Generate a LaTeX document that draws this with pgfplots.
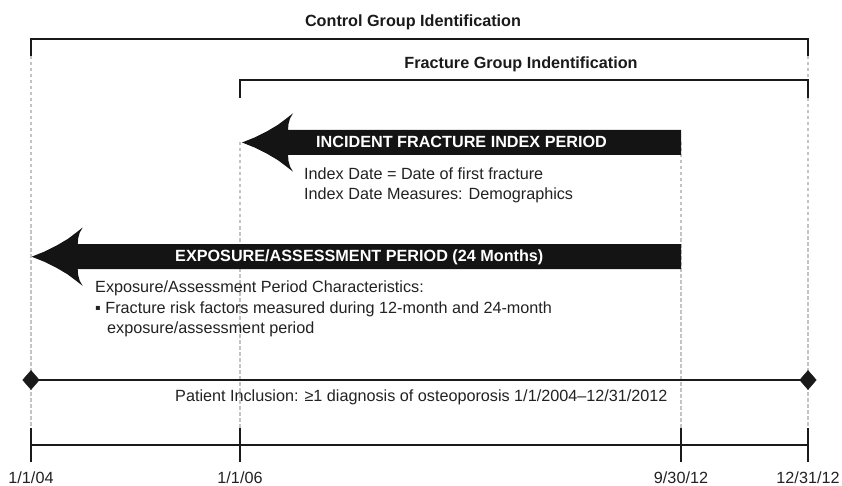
\documentclass[border=0pt]{standalone}
\usepackage{pgfplots}
\pgfplotsset{compat=1.18}
\usepackage{fontspec}
\setmainfont{Liberation Sans}
\definecolor{ink}{HTML}{1A1A1A}
\definecolor{txt}{HTML}{222222}
\definecolor{arrowc}{HTML}{141414}
\definecolor{dashc}{HTML}{C4C4C4}
\newcommand{\fs}{\fontsize{16.2}{20}\selectfont}
\begin{document}
\begin{tikzpicture}
\begin{axis}[
  scale only axis, width=842pt, height=486pt,
  xmin=0, xmax=842, ymin=0, ymax=486, y dir=reverse,
  hide axis, clip=false,
]
\path (axis cs:0,0) rectangle (axis cs:842,486);
% gray dashed guides
\addplot[dashc, line width=2.3pt, dash pattern=on 3.5pt off 2.5pt] coordinates {(31,56) (31,428)};
\addplot[dashc, line width=2.3pt, dash pattern=on 3.5pt off 2.5pt] coordinates {(240,142) (240,428)};
\addplot[dashc, line width=2.3pt, dash pattern=on 3.5pt off 2.5pt] coordinates {(681,142) (681,428)};
\addplot[dashc, line width=2.3pt, dash pattern=on 3.5pt off 2.5pt] coordinates {(808,56) (808,428)};
% brackets
\addplot[ink, line width=2.4pt, line join=miter] coordinates {(31,56) (31,39) (808,39) (808,56)};
\addplot[ink, line width=2.4pt, line join=miter] coordinates {(240,98) (240,80) (808,80) (808,98)};
% incident arrow
\addplot[fill=arrowc, draw=none] coordinates {
 (242,142.5) (255,137.3) (267,131.3) (278,124.8) (287,118) (293,113.3) (290,118.5) (288.5,124) (288,130)
 (681,130) (681,155) (288,155) (288.5,161) (290,166.5) (293,171.7) (287,167) (278,160.2) (267,153.7) (255,147.7)
} -- cycle;
% exposure arrow
\addplot[fill=arrowc, draw=none] coordinates {
 (31.7,256.7) (44.7,251.5) (56.7,245.5) (67.7,239) (76.7,232.2) (82.7,227.5) (79.7,232.7) (78.2,238.2) (77.7,244.2)
 (681,244.2) (681,269.2) (77.7,269.2) (78.2,275.2) (79.7,280.7) (82.7,285.9) (76.7,281.2) (67.7,274.4) (56.7,267.9) (44.7,261.9)
} -- cycle;
% patient inclusion line
\addplot[ink, line width=2.4pt] coordinates {(31,380) (808,380)};
\addplot[only marks, mark=diamond*, mark size=9.5pt, mark options={fill=ink, draw=ink, line width=0.5pt, xscale=1.15}] coordinates {(31,380) (808,380)};
% timeline
\addplot[ink, line width=2.6pt] coordinates {(31,445) (808,445)};
\addplot[ink, line width=2.8pt] coordinates {(31,428) (31,462)};
\addplot[ink, line width=2.8pt] coordinates {(240,428) (240,462)};
\addplot[ink, line width=2.8pt] coordinates {(681,428) (681,462)};
\addplot[ink, line width=2.8pt] coordinates {(808,428) (808,462)};
% texts
\node[anchor=base, font=\fs\bfseries, text=ink] at (axis cs:413,27) {Control Group Identification};
\node[anchor=base, font=\fs\bfseries, text=ink] at (axis cs:521,68.5) {Fracture Group Indentification};
\node[anchor=base west, font=\fs\bfseries, text=white, inner sep=0pt] at (axis cs:316,148) {INCIDENT FRACTURE INDEX PERIOD};
\node[anchor=base west, font=\fs, text=txt, inner sep=0pt] at (axis cs:304,179.5) {Index Date = Date of first fracture};
\node[anchor=base west, font=\fs, text=txt, inner sep=0pt] at (axis cs:304,200) {Index Date Measures: Demographics};
\node[anchor=base west, font=\fs\bfseries, text=white, inner sep=0pt] at (axis cs:175,261.7) {EXPOSURE/ASSESSMENT PERIOD (24 Months)};
\node[anchor=base west, font=\fs, text=txt, inner sep=0pt] at (axis cs:95,292.7) {Exposure/Assessment Period Characteristics:};
\node[anchor=base west, font=\fs, text=txt, inner sep=0pt] at (axis cs:95,313.3) {▪ Fracture risk factors measured during 12-month and 24-month};
\node[anchor=base west, font=\fs, text=txt, inner sep=0pt] at (axis cs:107,333.7) {exposure/assessment period};
\node[anchor=base west, font=\fs, text=txt, inner sep=0pt] at (axis cs:175,401.7) {Patient Inclusion: ≥1 diagnosis of osteoporosis 1/1/2004–12/31/2012};
\node[anchor=base, font=\fs, text=txt, inner sep=0pt] at (axis cs:31,483) {1/1/04};
\node[anchor=base, font=\fs, text=txt, inner sep=0pt] at (axis cs:240,483) {1/1/06};
\node[anchor=base, font=\fs, text=txt, inner sep=0pt] at (axis cs:681,483) {9/30/12};
\node[anchor=base, font=\fs, text=txt, inner sep=0pt] at (axis cs:808,483) {12/31/12};
\end{axis}
\end{tikzpicture}
\end{document}
